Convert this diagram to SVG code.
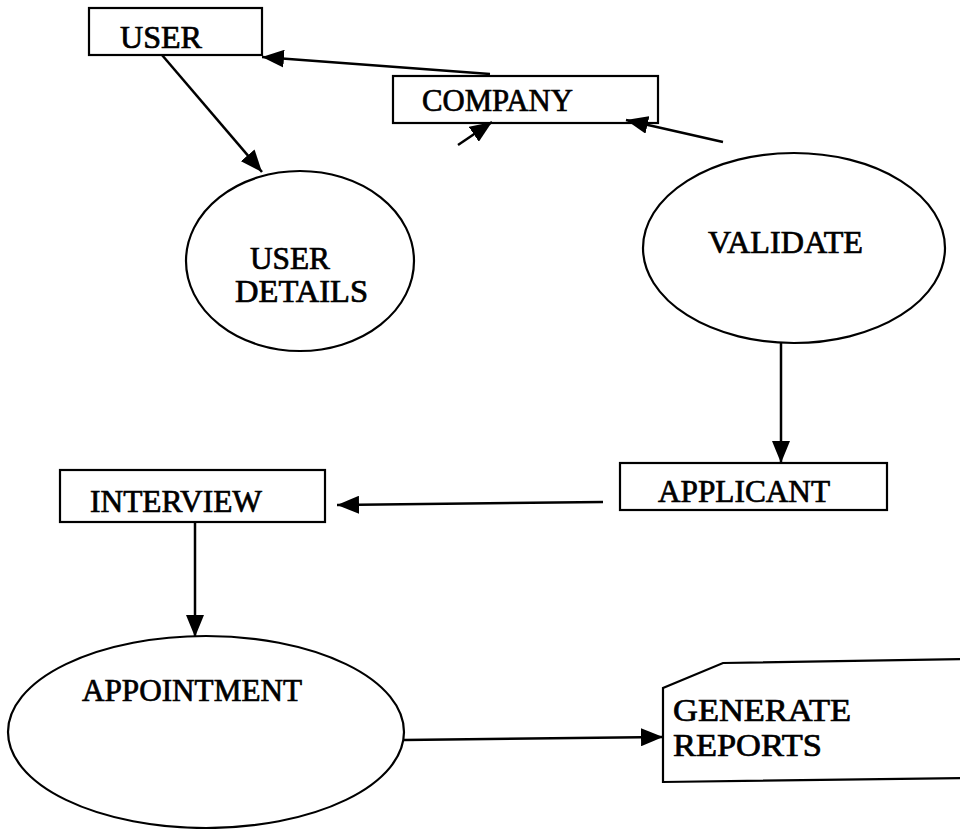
<svg xmlns="http://www.w3.org/2000/svg" width="960" height="829" viewBox="0 0 960 829">
<defs>
<marker id="ah" markerUnits="userSpaceOnUse" markerWidth="24" markerHeight="18" refX="22" refY="9" orient="auto">
<path d="M0,0 L22,9 L0,18 Z" fill="#000"/>
</marker>
<style>
.box{fill:#fff;stroke:#000;stroke-width:2.2}
.el{fill:#fff;stroke:#000;stroke-width:2.2}
.t{font-family:"Liberation Serif","Times New Roman",serif;font-size:31px;fill:#000;stroke:#000;stroke-width:0.7}
.c{fill:none;stroke:#000;stroke-width:2.5}
</style>
</defs>
<rect width="960" height="829" fill="#fff"/>
<g id="user">
<rect class="box" x="89" y="8" width="173" height="47"/>
<text class="t" x="120" y="48" textLength="82" lengthAdjust="spacingAndGlyphs">USER</text>
</g>
<g id="company">
<rect class="box" x="393" y="76" width="265" height="47"/>
<text class="t" x="422" y="111" textLength="151" lengthAdjust="spacingAndGlyphs">COMPANY</text>
</g>
<g id="user-details">
<ellipse class="el" cx="300" cy="261" rx="114" ry="90"/>
<text class="t" x="250" y="269" textLength="80" lengthAdjust="spacingAndGlyphs">USER</text>
<text class="t" x="235" y="302" textLength="133" lengthAdjust="spacingAndGlyphs">DETAILS</text>
</g>
<g id="validate">
<ellipse class="el" cx="794" cy="248" rx="151" ry="95"/>
<text class="t" x="708" y="253" textLength="155" lengthAdjust="spacingAndGlyphs">VALIDATE</text>
</g>
<g id="applicant">
<rect class="box" x="620" y="463" width="267" height="47"/>
<text class="t" x="658" y="502" textLength="172" lengthAdjust="spacingAndGlyphs">APPLICANT</text>
</g>
<g id="interview">
<rect class="box" x="60" y="470" width="265" height="52"/>
<text class="t" x="90" y="512" textLength="172" lengthAdjust="spacingAndGlyphs">INTERVIEW</text>
</g>
<g id="appointment">
<ellipse class="el" cx="206" cy="732" rx="198" ry="96"/>
<text class="t" x="82" y="701" textLength="220" lengthAdjust="spacingAndGlyphs">APPOINTMENT</text>
</g>
<g id="generate-reports">
<path d="M962,659 L723,663 L663,688 L663,782 L962,778" fill="#fff" stroke="#000" stroke-width="2.2"/>
<text class="t" x="673" y="721" textLength="178" lengthAdjust="spacingAndGlyphs">GENERATE</text>
<text class="t" x="673" y="756" textLength="149" lengthAdjust="spacingAndGlyphs">REPORTS</text>
</g>
<g id="connectors">
<line class="c" x1="490" y1="74" x2="262" y2="57" marker-end="url(#ah)"/>
<line class="c" x1="162" y1="55" x2="262" y2="172" marker-end="url(#ah)"/>
<line class="c" x1="458" y1="145" x2="492" y2="122" marker-end="url(#ah)"/>
<line class="c" x1="723" y1="142" x2="626" y2="120" marker-end="url(#ah)"/>
<line class="c" x1="781" y1="343" x2="781" y2="463" marker-end="url(#ah)"/>
<line class="c" x1="603" y1="502" x2="337" y2="505" marker-end="url(#ah)"/>
<line class="c" x1="195" y1="522" x2="195" y2="637" marker-end="url(#ah)"/>
<line class="c" x1="404" y1="740" x2="663" y2="737" marker-end="url(#ah)"/>
</g>
</svg>
